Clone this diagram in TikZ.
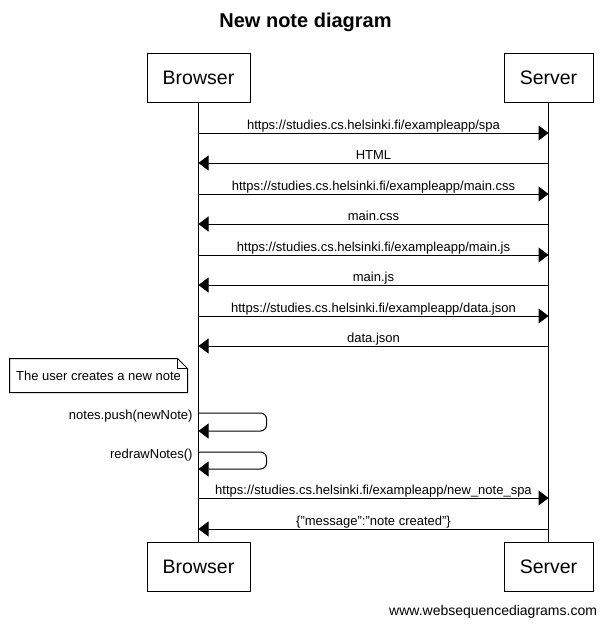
\documentclass[tikz,border=0pt]{standalone}
\usepackage{fontspec}
\setmainfont{Liberation Sans}[Ligatures=NoCommon]
\usetikzlibrary{arrows.meta,calc}

\begin{document}
\begin{tikzpicture}[x=1pt,y=-1pt,line width=1pt,
    actor/.style={draw,minimum height=49pt,font=\fontsize{19.5}{23}\selectfont},
    msg/.style={-{Triangle[length=10pt,width=15pt]}},
    lbl/.style={inner sep=0pt,font=\fontsize{13}{15}\selectfont},
    over/.style={lbl,midway,anchor=base,yshift=3.5pt},
    self/.style={lbl,anchor=base east,xshift=-5.5pt,yshift=-6.5pt}]
  \useasboundingbox (0,0) rectangle (608,625);

  \node[font=\bfseries\fontsize{20}{24}\selectfont] (title) at (305.5,22) {New note diagram};

  \node[actor,minimum width=103pt] (bt) at (198.5,77.5) {Browser};
  \node[actor,minimum width=89pt]  (st) at (548.5,77.5) {Server};
  \node[actor,minimum width=103pt] (bb) at (198.5,566.5) {Browser};
  \node[actor,minimum width=89pt]  (sb) at (548.5,566.5) {Server};

  \draw (bt) -- (bb);
  \draw (st) -- (sb);

  \coordinate (b1) at (198.5,133); \coordinate (s1) at (548.5,133);
  \coordinate (b2) at (198.5,163); \coordinate (s2) at (548.5,163);
  \coordinate (b3) at (198.5,194); \coordinate (s3) at (548.5,194);
  \coordinate (b4) at (198.5,224); \coordinate (s4) at (548.5,224);
  \coordinate (b5) at (198.5,255); \coordinate (s5) at (548.5,255);
  \coordinate (b6) at (198.5,285); \coordinate (s6) at (548.5,285);
  \coordinate (b7) at (198.5,316); \coordinate (s7) at (548.5,316);
  \coordinate (b8) at (198.5,346); \coordinate (s8) at (548.5,346);
  \coordinate (p1) at (198.5,413); \coordinate (q1) at (198.5,431);
  \coordinate (p2) at (198.5,452); \coordinate (q2) at (198.5,469);
  \coordinate (b9) at (198.5,498); \coordinate (s9) at (548.5,498);
  \coordinate (b10) at (198.5,529); \coordinate (s10) at (548.5,529);

  \draw[msg] (b1) -- (s1) node[over] {https://studies.cs.helsinki.fi/exampleapp/spa};
  \draw[msg] (s2) -- (b2) node[over] {HTML};
  \draw[msg] (b3) -- (s3) node[over] {https://studies.cs.helsinki.fi/exampleapp/main.css};
  \draw[msg] (s4) -- (b4) node[over] {main.css};
  \draw[msg] (b5) -- (s5) node[over] {https://studies.cs.helsinki.fi/exampleapp/main.js};
  \draw[msg] (s6) -- (b6) node[over] {main.js};
  \draw[msg] (b7) -- (s7) node[over] {https://studies.cs.helsinki.fi/exampleapp/data.json};
  \draw[msg] (s8) -- (b8) node[over] {data.json};

  \node[lbl,minimum width=177pt,minimum height=33pt] (note) at (98.5,375.5) {The user creates a new note};
  \draw (note.north west) -- ($(note.north east)+(-10,0)$) -- ($(note.north east)+(0,10)$)
    -- (note.south east) -- (note.south west) -- cycle;
  \draw ($(note.north east)+(-10,0)$) -- ($(note.north east)+(-10,10)$) -- ($(note.north east)+(0,10)$);

  \draw[msg,rounded corners=6pt] (p1) -- ++(68,0) |- (q1);
  \node[self] (push) at (p1) {notes.push(newNote)};
  \draw[msg,rounded corners=6pt] (p2) -- ++(68,0) |- (q2);
  \node[self] (redraw) at (p2) {redrawNotes()};

  \draw[msg] (b9) -- (s9) node[over] {https://studies.cs.helsinki.fi/exampleapp/new\_note\_spa};
  \draw[msg] (s10) -- (b10) node[over] {\{"message":"note created"\}};

  \node[font=\fontsize{14}{17}\selectfont,anchor=base east,inner sep=0pt] (site) at (597.5,615) {www.websequencediagrams.com};
\end{tikzpicture}
\end{document}
